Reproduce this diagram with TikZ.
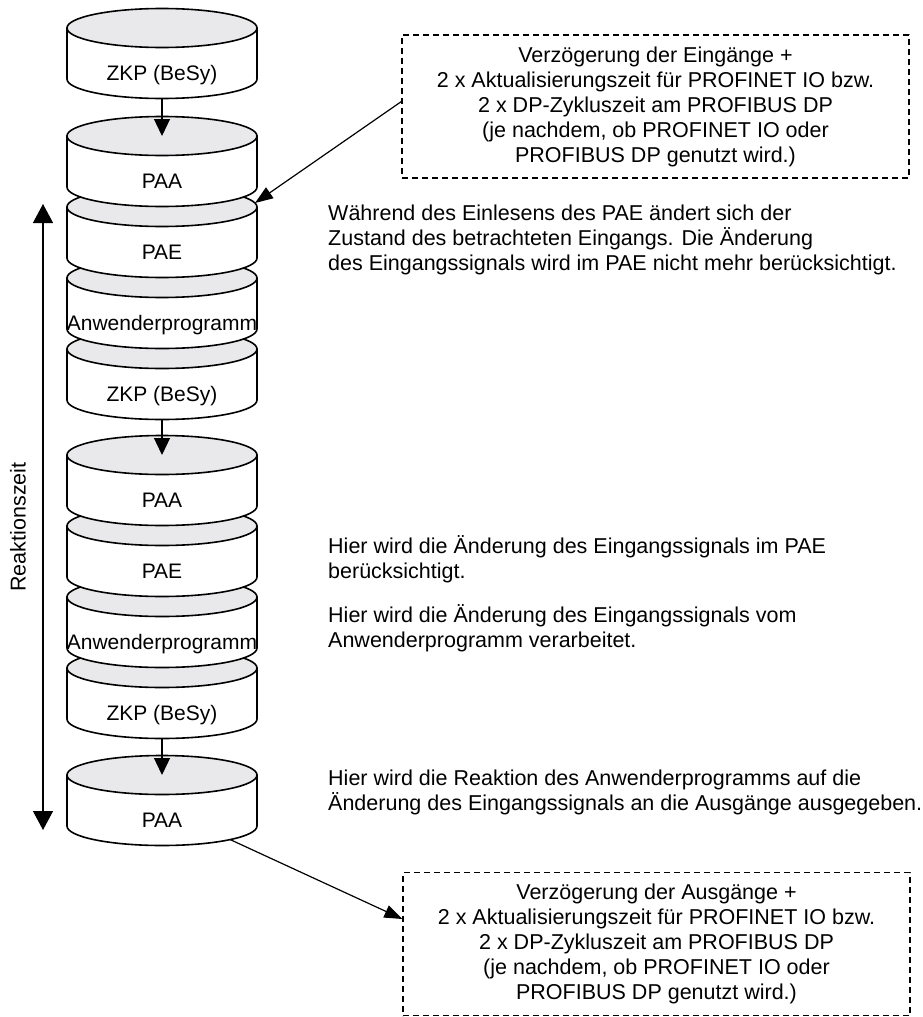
\documentclass[tikz,border=0pt]{standalone}
\usepackage{fontspec}
\setmainfont{Liberation Sans}
\usetikzlibrary{arrows.meta}
\definecolor{topgray}{RGB}{233,233,235}
\newcommand\drawcyl[3]{%
  \draw[cylline, fill=white] (67,#2) -- (67,#2+51)
     arc[start angle=180, end angle=0, x radius=95, y radius=19.5] -- (257,#2) -- cycle;
  \draw[cylline, fill=topgray] (162,#2) ellipse[x radius=95, y radius=19.5];
  \node[cyltxt, anchor=base] (#1) at (162,#2+52.5) {#3};
  \coordinate (#1-top) at (162,#2);
  \coordinate (#1-bot) at (162,#2+70.5);
}
\begin{document}
\begin{tikzpicture}[x=1pt, y=-1pt, line join=round,
  txt/.style={font=\fontsize{21.5}{25}\selectfont, inner sep=0pt},
  cyltxt/.style={font=\fontsize{21}{25}\selectfont, inner sep=0pt},
  cylline/.style={line width=1.6pt},
  conn/.style={line width=1.3pt, -{Triangle[length=17pt, width=16pt]}},
  diag/.style={line width=1.2pt, -{Triangle[length=18pt, width=13pt]}},
  rzarrow/.style={line width=1.3pt, {Triangle[length=19pt, width=20pt]}-{Triangle[length=19pt, width=20pt]}},
  dashbox/.style={draw, line width=1.2pt, dash pattern=on 6pt off 4pt, inner sep=0pt,
     minimum width=507pt, minimum height=143pt, align=center,
     font=\fontsize{21.5}{25}\selectfont},
  sidetext/.style={txt, anchor=base west, align=left}]
\useasboundingbox (0,0) rectangle (922,1017);

% cylinders, drawn from bottom to top so upper ones overlap lower ones
\drawcyl{paaC}{775}{PAA}
\drawcyl{zkpC}{668}{ZKP (BeSy)}
\drawcyl{anwB}{597}{Anwenderprogramm}
\drawcyl{paeB}{526}{PAE}
\drawcyl{paaB}{455}{PAA}
\drawcyl{zkpB}{349}{ZKP (BeSy)}
\drawcyl{anwA}{278}{Anwenderprogramm}
\drawcyl{paeA}{207}{PAE}
\drawcyl{paaA}{136}{PAA}
\drawcyl{zkpA}{28}{ZKP (BeSy)}

\draw[conn] (zkpA-bot) -- (paaA-top);
\draw[conn] (zkpB-bot) -- (paaB-top);
\draw[conn] (zkpC-bot) -- (paaC-top);

% Reaktionszeit
\coordinate (rzTop) at (43,204);
\coordinate (rzBot) at (43,830);
\draw[rzarrow] (rzBot) -- (rzTop);
\node[txt, rotate=90] (rz) at (18,527) {Reaktionszeit};

% dashed boxes
\node[dashbox] (boxE) at (655.5,106.5) {Verzögerung der Eingänge +\\
2 x Aktualisierungszeit für PROFINET IO bzw.\\
2 x DP-Zykluszeit am PROFIBUS DP\\
(je nachdem, ob PROFINET IO oder\\
PROFIBUS DP genutzt wird.)};
\node[dashbox] (boxA) at (656.5,944) {Verzögerung der Ausgänge +\\
2 x Aktualisierungszeit für PROFINET IO bzw.\\
2 x DP-Zykluszeit am PROFIBUS DP\\
(je nachdem, ob PROFINET IO oder\\
PROFIBUS DP genutzt wird.)};

\coordinate (paeA-ne) at (255,203);
\coordinate (paaC-se) at (230,839.5);
\draw[diag] ([yshift=5pt]boxE.west) -- (paeA-ne);
\draw[diag] (paaC-se) -- ([yshift=25pt]boxA.west);

% side texts (anchor = baseline of the last line)
\node[sidetext] (t1) at (328,270.5) {Während des Einlesens des PAE ändert sich der\\
Zustand des betrachteten Eingangs. Die Änderung\\
des Eingangssignals wird im PAE nicht mehr berücksichtigt.};
\node[sidetext] (t2) at (328,578.5) {Hier wird die Änderung des Eingangssignals im PAE\\
berücksichtigt.};
\node[sidetext] (t3) at (328,647.5) {Hier wird die Änderung des Eingangssignals vom\\
Anwenderprogramm verarbeitet.};
\node[sidetext] (t4) at (328,810.5) {Hier wird die Reaktion des Anwenderprogramms auf die\\
Änderung des Eingangssignals an die Ausgänge ausgegeben.};
\end{tikzpicture}
\end{document}
